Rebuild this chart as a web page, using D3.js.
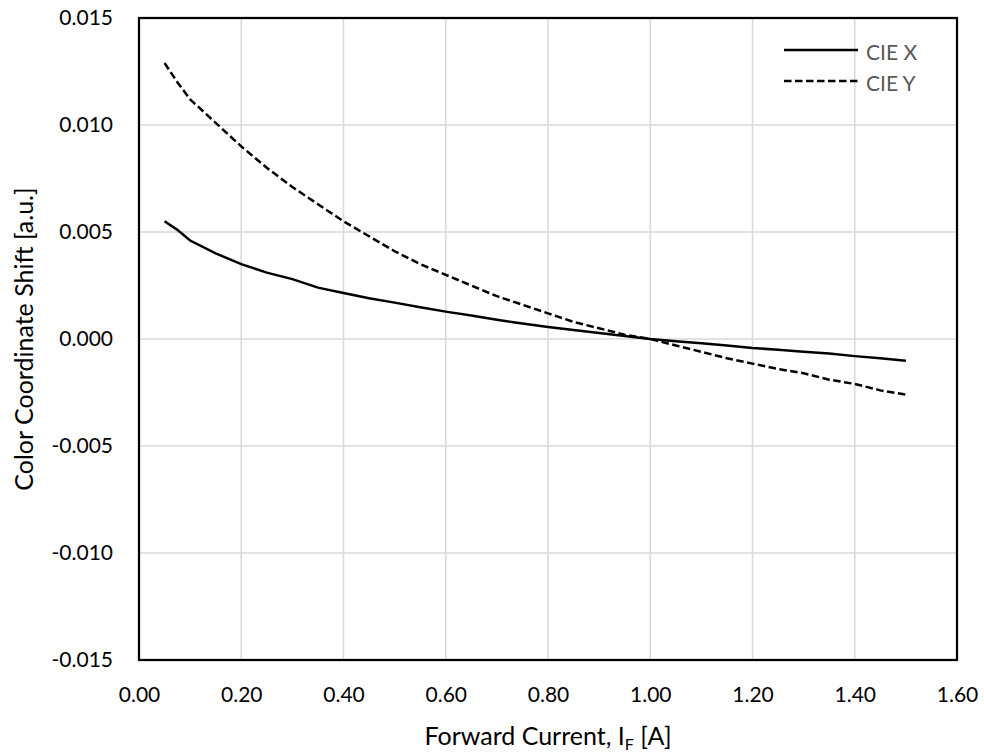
<!DOCTYPE html>
<html><head><meta charset="utf-8">
<script src="https://cdn.jsdelivr.net/npm/d3@7"></script>
<style>body{margin:0;background:#fff}svg{display:block}text{font-family:Lato,"Open Sans",sans-serif}</style>
</head><body><svg id="c" width="984" height="754"></svg>
<script>
const current = [0.05,0.075,0.1,0.15,0.2,0.25,0.3,0.35,0.4,0.45,0.5,0.55,0.6,0.65,0.7,0.75,0.8,0.85,0.9,0.95,1.0,1.05,1.1,1.15,1.2,1.25,1.3,1.35,1.4,1.45,1.5];
const cieX = [0.0055,0.0051,0.0046,0.0040,0.0035,0.0031,0.0028,0.0024,0.00215,0.0019,0.0017,0.00148,0.00128,0.0011,0.0009,0.00072,0.00056,0.00042,0.00028,0.00014,0,-0.0001,-0.0002,-0.0003,-0.00042,-0.0005,-0.0006,-0.00068,-0.0008,-0.0009,-0.00102];
const cieY = [0.0129,0.0120,0.0112,0.0101,0.0090,0.0080,0.0071,0.0063,0.0055,0.0048,0.0041,0.0035,0.0030,0.0025,0.0020,0.0016,0.0012,0.0008,0.0005,0.0002,0,-0.0003,-0.0006,-0.0009,-0.00115,-0.0014,-0.0016,-0.0019,-0.0021,-0.0024,-0.0026];
const xTicks = [0,0.2,0.4,0.6,0.8,1.0,1.2,1.4,1.6];
const yTicks = [-0.015,-0.010,-0.005,0,0.005,0.010,0.015];
const seriesNames = ["CIE X","CIE Y"];

const svg = d3.select("#c");
const L=139,R=957,T=18,B=660;
const x = d3.scaleLinear().domain([0,1.6]).range([L,R]);
const y = d3.scaleLinear().domain([-0.015,0.015]).range([B,T]);
const FONT = "Lato,'Open Sans',sans-serif";

// grid
svg.append("g").selectAll("line").data(xTicks.slice(1,-1)).join("line")
  .attr("x1",d=>x(d)).attr("x2",d=>x(d)).attr("y1",T).attr("y2",B)
  .attr("stroke","#d9d9d9").attr("stroke-width",1.5);
svg.append("g").selectAll("line").data(yTicks.slice(1,-1)).join("line")
  .attr("x1",L).attr("x2",R).attr("y1",d=>y(d)).attr("y2",d=>y(d))
  .attr("stroke","#d9d9d9").attr("stroke-width",1.5);

// axes
const fx = d3.format(".2f"), fy = d=>d3.format(".3f")(d).replace("\u2212","-");
const xa = svg.append("g").attr("transform",`translate(0,${B})`)
  .call(d3.axisBottom(x).tickValues(xTicks).tickFormat(fx).tickSize(0).tickPadding(26));
const ya = svg.append("g").attr("transform",`translate(${L},0)`)
  .call(d3.axisLeft(y).tickValues(yTicks).tickFormat(fy).tickSize(0).tickPadding(26));
[xa,ya].forEach(a=>{a.select(".domain").remove();a.selectAll("text").attr("font-size",21).attr("fill","#000").attr("font-family",FONT);});
xa.selectAll("text").attr("dy",null).attr("y",42);

// frame
svg.append("rect").attr("x",L).attr("y",T).attr("width",R-L).attr("height",B-T)
  .attr("fill","none").attr("stroke","#000").attr("stroke-width",2.25);

// lines
const line = vals => d3.line().x((d,i)=>x(current[i])).y(d=>y(d))(vals);
svg.append("path").attr("d",line(cieX)).attr("fill","none").attr("stroke","#000").attr("stroke-width",2.5);
svg.append("path").attr("d",line(cieY)).attr("fill","none").attr("stroke","#000").attr("stroke-width",2.5).attr("stroke-dasharray","7.5,3.5");

// legend
const lg = svg.append("g");
[[50,null],[81,"7.5,3.5"]].forEach((o,i)=>{
  lg.append("line").attr("x1",784).attr("x2",858).attr("y1",o[0]).attr("y2",o[0])
    .attr("stroke","#000").attr("stroke-width",2.5).attr("stroke-dasharray",o[1]);
  lg.append("text").attr("x",866).attr("y",o[0]+10).attr("font-size",21).attr("fill","#595959").text(seriesNames[i]);
});

// titles
svg.append("text").attr("x",(L+R)/2).attr("y",745).attr("text-anchor","middle").attr("font-size",25)
  .html('Forward Current, I<tspan font-size="16" dy="5">F</tspan><tspan dy="-5"> [A]</tspan>');
svg.append("text").attr("transform",`translate(33,${(T+B)/2}) rotate(-90)`).attr("text-anchor","middle").attr("font-size",25)
  .text("Color Coordinate Shift [a.u.]");
</script></body></html>
